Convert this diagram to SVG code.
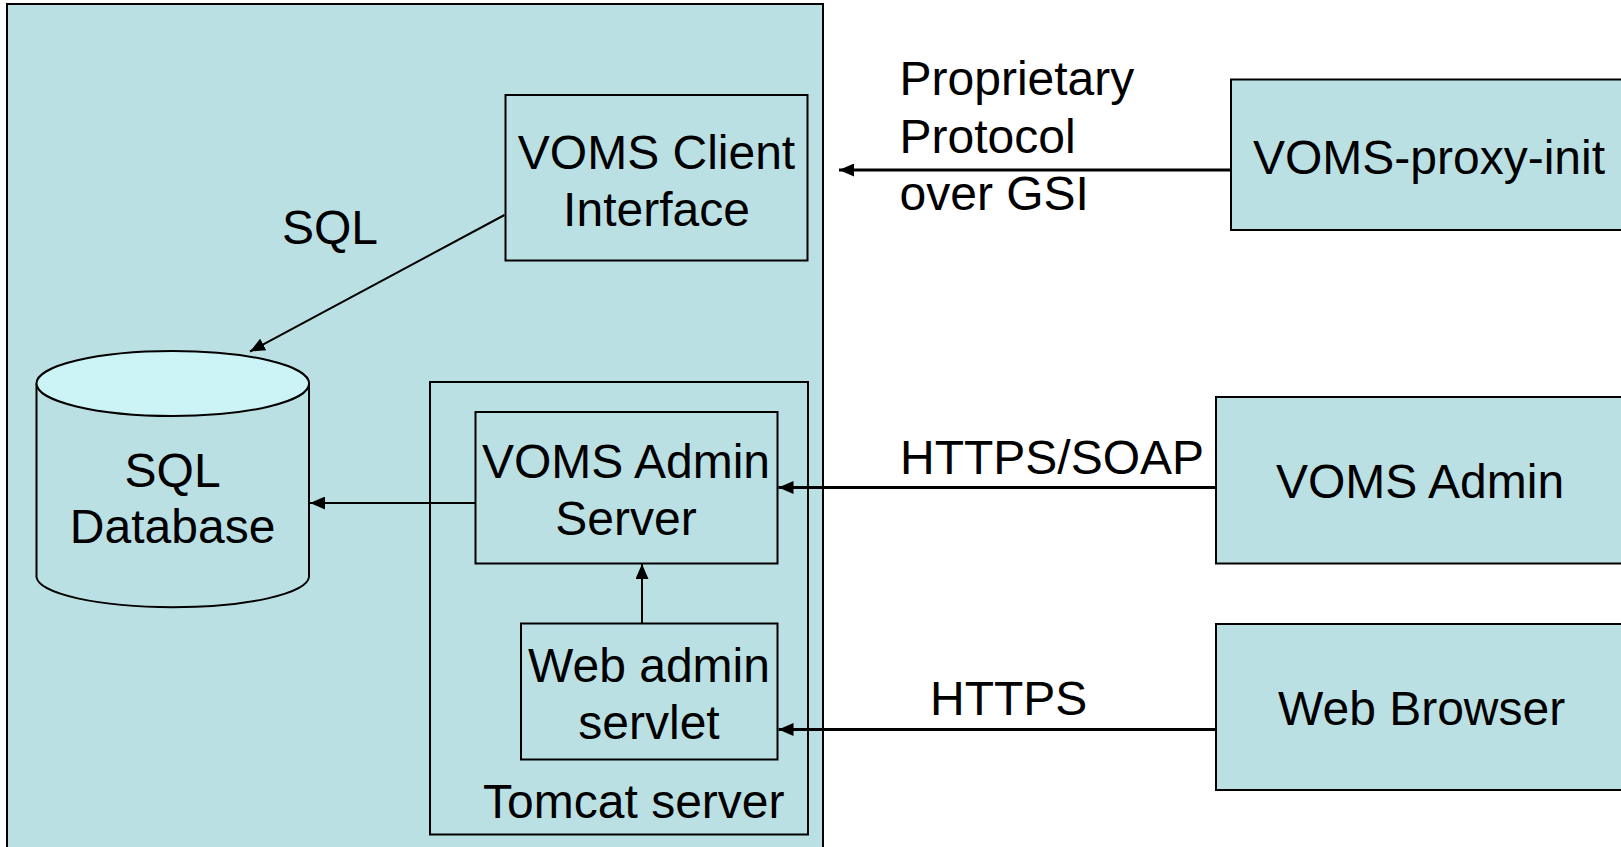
<svg xmlns="http://www.w3.org/2000/svg" width="1621" height="847" viewBox="0 0 1621 847">
  <style>
    .box { fill: #BBE0E3; stroke: #000; stroke-width: 2; }
    .frame { fill: none; stroke: #000; stroke-width: 2; }
    .lbl { font-family: "Liberation Sans", Arial, sans-serif; font-size: 48px; fill: #000; }
    .mid { text-anchor: middle; }
    .wire { fill: none; stroke: #000; stroke-width: 2; marker-end: url(#head); }
    .wire-thick { fill: none; stroke: #000; stroke-width: 3; marker-end: url(#head); }
  </style>
  <defs>
    <marker id="head" viewBox="0 0 15 13" refX="15" refY="6.5" markerWidth="15" markerHeight="13" markerUnits="userSpaceOnUse" orient="auto">
      <path d="M0,0 L15,6.5 L0,13 Z" fill="#000"/>
    </marker>
  </defs>

  <rect width="1621" height="847" fill="#fff"/>

  <!-- VOMS server host -->
  <g id="voms-server">
    <rect class="box" x="7" y="4" width="816" height="860" stroke-width="2.5"/>
  </g>

  <g id="voms-client-interface">
    <rect class="box" x="505.5" y="95" width="302" height="165.5"/>
    <text class="lbl mid" x="656.5" y="168.5">VOMS Client</text>
    <text class="lbl mid" x="656.5" y="225.5">Interface</text>
  </g>

  <g id="sql-database">
    <path d="M36.5,383.5 L36.5,577 A136.3,31 0 0 0 309,577 L309,383.5" fill="#BBE0E3" stroke="#000" stroke-width="2"/>
    <ellipse cx="172.8" cy="383.5" rx="136.3" ry="32.5" fill="#CCF4F6" stroke="#000" stroke-width="2"/>
    <text class="lbl mid" x="172.6" y="486.5">SQL</text>
    <text class="lbl mid" x="172.6" y="543">Database</text>
  </g>

  <g id="tomcat-server">
    <rect class="frame" x="430" y="382" width="378" height="452.5"/>
    <text class="lbl mid" x="633.8" y="817.5">Tomcat server</text>
  </g>

  <g id="voms-admin-server">
    <rect class="box" x="475.5" y="412" width="302" height="151.5"/>
    <text class="lbl mid" x="626" y="477.5">VOMS Admin</text>
    <text class="lbl mid" x="626" y="535">Server</text>
  </g>

  <g id="web-admin-servlet">
    <rect class="box" x="521" y="623.5" width="256.5" height="136"/>
    <text class="lbl mid" x="649" y="681.5">Web admin</text>
    <text class="lbl mid" x="649" y="739">servlet</text>
  </g>

  <!-- external clients -->
  <g id="voms-proxy-init">
    <rect class="box" x="1231" y="79.5" width="400" height="150.5"/>
    <text class="lbl" x="1253" y="173.5">VOMS-proxy-init</text>
  </g>

  <g id="voms-admin">
    <rect class="box" x="1216" y="397" width="415" height="166.5"/>
    <text class="lbl" x="1276" y="498">VOMS Admin</text>
  </g>

  <g id="web-browser">
    <rect class="box" x="1216" y="624" width="415" height="166"/>
    <text class="lbl" x="1278" y="725">Web Browser</text>
  </g>

  <!-- connectors -->
  <g id="connectors">
    <line class="wire" x1="504.5" y1="215" x2="250" y2="351.5"/>
    <line class="wire" x1="475.5" y1="503" x2="310" y2="503"/>
    <line class="wire" x1="642" y1="623.5" x2="642" y2="564"/>
    <line class="wire-thick" x1="1231" y1="170" x2="839" y2="170"/>
    <line class="wire-thick" x1="1216" y1="487.5" x2="778.5" y2="487.5"/>
    <line class="wire-thick" x1="1216" y1="729.5" x2="778.5" y2="729.5"/>
  </g>

  <!-- connector labels -->
  <g id="connector-labels">
    <text class="lbl mid" x="330" y="244">SQL</text>
    <text class="lbl" x="899.5" y="95">Proprietary</text>
    <text class="lbl" x="899.5" y="153">Protocol</text>
    <text class="lbl" x="899.5" y="210">over GSI</text>
    <text class="lbl" x="900" y="473.5">HTTPS/SOAP</text>
    <text class="lbl" x="930" y="715">HTTPS</text>
  </g>
</svg>
